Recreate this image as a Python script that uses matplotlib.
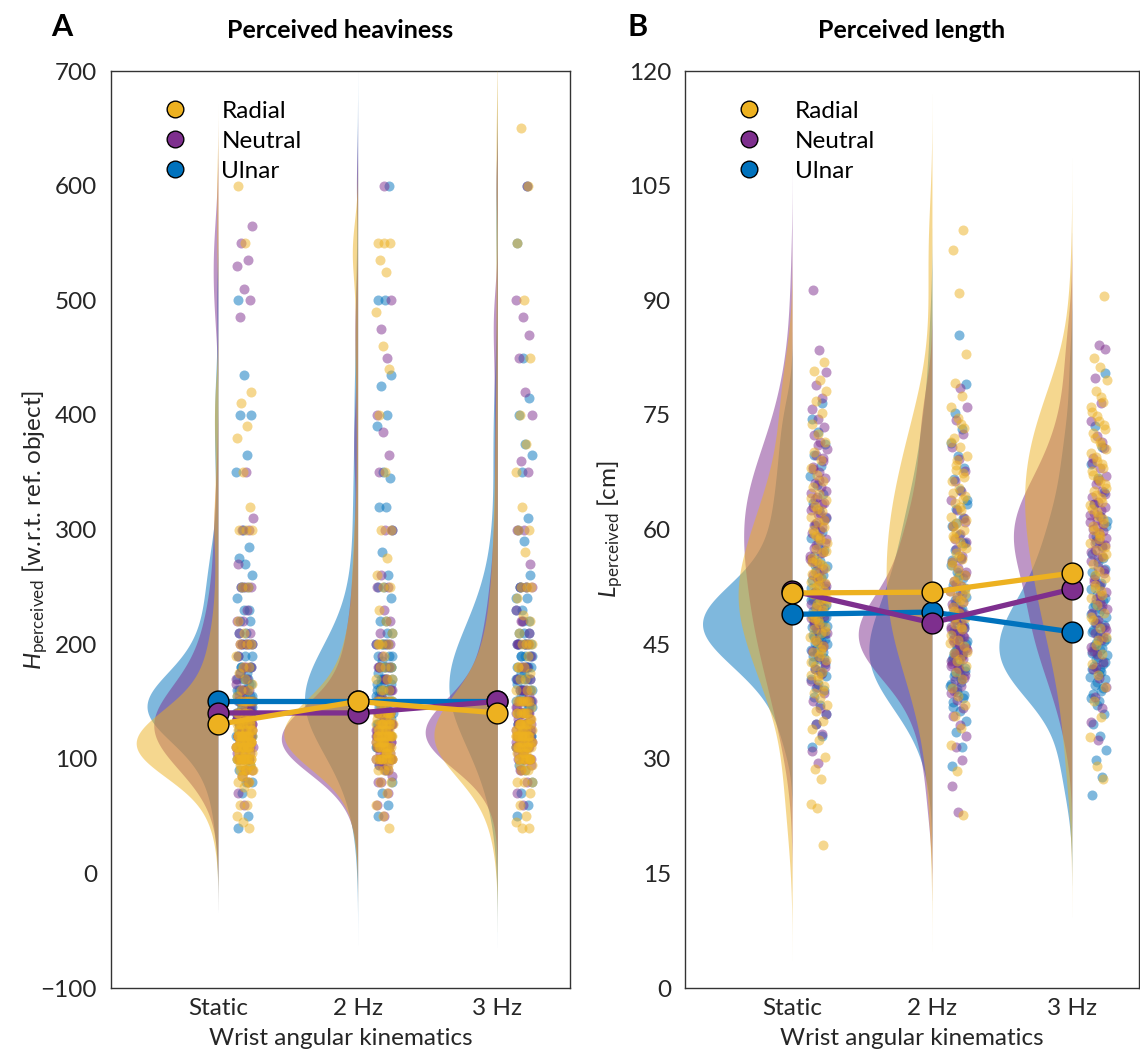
import numpy as np
import matplotlib
matplotlib.use("Agg")
import matplotlib.pyplot as plt
from matplotlib.lines import Line2D

plt.rcParams['font.family'] = ['Lato', 'DejaVu Sans']
plt.rcParams['mathtext.fontset'] = 'custom'
plt.rcParams['mathtext.rm'] = 'Lato'
plt.rcParams['mathtext.it'] = 'Lato:italic'
plt.rcParams['mathtext.bf'] = 'Lato:bold'

categories = ["Static", "2 Hz", "3 Hz"]
conditions = ["Radial", "Neutral", "Ulnar"]
colors = {"Radial": "#EDB120", "Neutral": "#7E2F8E", "Ulnar": "#0072BD"}

# ---------------- Panel A: perceived heaviness ----------------
H_static_radial = [40, 45, 50, 60, 60, 70, 75, 80, 80, 85, 90, 90, 90, 95, 100, 100, 100, 100, 100, 100,
                   105, 110, 110, 110, 110, 115, 115, 120, 120, 120, 120, 120, 120, 125, 125, 130, 130, 130,
                   130, 135, 140, 140, 140, 145, 150, 150, 150, 150, 150, 155, 160, 160, 165, 170, 175, 180,
                   180, 190, 200, 200, 200, 210, 220, 250, 250, 300, 300, 300, 320, 350, 380, 390, 410, 420,
                   550, 600,
                   80, 85, 90, 90, 95, 95, 100, 100, 100, 100, 105, 105, 110, 110, 110, 110, 115, 115, 115,
                   120, 120, 120, 120, 125, 125, 130, 130, 135, 140, 150,
                   95, 100, 100, 105, 105, 110, 110, 110, 115, 115, 115, 120, 120, 120, 125, 125, 130, 130,
                   90, 100, 110, 120, 115, 105, 125]
H_static_neutral = [60, 70, 80, 85, 90, 90, 100, 100, 100, 105, 110, 110, 115, 120, 120, 120, 125, 130, 130,
                    135, 140, 140, 140, 145, 150, 150, 150, 155, 160, 160, 165, 170, 175, 180, 180, 190, 200,
                    200, 200, 200, 210, 210, 220, 220, 230, 250, 250, 250, 270, 300, 300, 310, 350, 485, 500,
                    510, 530, 535, 550, 565,
                    90, 100, 100, 105, 110, 110, 115, 120, 120, 120, 125, 125, 130, 130, 130, 130, 135, 135,
                    140, 140, 140, 145, 150, 150, 160, 170, 180, 200,
                    110, 115, 120, 120, 125, 125, 130, 130, 130, 135, 135, 140, 140, 145, 150, 120, 125, 130,
                    110, 140, 100, 105, 150, 135, 115]
H_static_ulnar = [40, 50, 70, 80, 80, 90, 95, 100, 100, 110, 110, 120, 120, 125, 130, 130, 140, 140, 140, 145,
                  150, 150, 150, 150, 155, 160, 160, 165, 170, 170, 175, 180, 180, 190, 190, 200, 200, 200, 210,
                  220, 220, 230, 240, 250, 250, 260, 270, 275, 285, 300, 350, 365, 400, 400, 435, 500,
                  100, 110, 120, 125, 130, 130, 130, 135, 135, 140, 140, 140, 140, 145, 145, 150, 150, 150,
                  155, 160, 160, 170, 180, 190, 200, 210, 230, 250,
                  120, 125, 130, 135, 140, 140, 140, 145, 145, 150, 150, 150, 155, 155, 160, 160, 165, 170,
                  135, 145, 150, 140, 130, 175, 180]
H_2hz_radial = [40, 50, 60, 70, 80, 80, 90, 90, 95, 100, 100, 100, 100, 105, 110, 110, 110, 115, 120, 120, 120,
                120, 125, 130, 130, 130, 135, 140, 140, 140, 150, 150, 150, 150, 160, 160, 170, 170, 180, 180,
                190, 200, 200, 200, 210, 220, 230, 250, 250, 260, 275, 300, 300, 350, 400, 440, 460, 490, 525,
                535, 550, 550, 550,
                90, 100, 100, 105, 110, 110, 115, 120, 120, 120, 120, 125, 125, 130, 130, 130, 135, 140, 140,
                145, 150, 150, 160, 170, 180, 200, 100, 115,
                100, 105, 110, 110, 115, 115, 120, 120, 120, 125, 125, 130, 130, 135, 140, 145, 150, 110,
                120, 125, 130, 115, 105, 100, 140]
H_2hz_neutral = [50, 60, 70, 80, 85, 90, 95, 100, 100, 100, 110, 110, 115, 120, 120, 120, 125, 130, 130, 140,
                 140, 140, 150, 150, 155, 160, 170, 180, 180, 190, 200, 200, 210, 220, 230, 250, 250, 260, 300,
                 300, 350, 365, 385, 400, 450, 475, 500, 600,
                 80, 90, 95, 100, 100, 100, 105, 110, 110, 110, 115, 115, 120, 120, 120, 120, 125, 125, 130,
                 130, 135, 140, 140, 150, 160, 170, 180, 200, 110, 120,
                 95, 100, 100, 105, 110, 110, 115, 115, 115, 120, 120, 120, 125, 125, 130, 130, 135, 140,
                 110, 115, 120, 125, 105, 100, 145]
H_2hz_ulnar = [50, 60, 70, 80, 90, 95, 100, 100, 110, 110, 120, 120, 125, 130, 130, 140, 140, 145, 150, 150,
               150, 160, 160, 165, 170, 180, 180, 190, 200, 200, 210, 220, 240, 250, 250, 260, 280, 300, 320,
               320, 345, 350, 390, 400, 425, 435, 500, 500, 600,
               100, 110, 120, 125, 130, 135, 140, 140, 145, 150, 150, 155, 160, 160, 165, 170, 170, 180, 180,
               190, 200, 200, 210, 220, 150, 140, 130, 120,
               120, 130, 135, 140, 145, 150, 150, 155, 160, 160, 165, 170, 175, 180, 185, 190, 140, 150,
               160, 170, 130, 145, 155, 180, 200]
H_3hz_radial = [40, 40, 45, 50, 60, 70, 80, 80, 90, 90, 95, 100, 100, 100, 100, 105, 110, 110, 110, 115, 120,
                120, 120, 120, 125, 130, 130, 130, 140, 140, 140, 145, 150, 150, 150, 150, 160, 160, 170, 175,
                180, 180, 190, 200, 200, 200, 210, 220, 225, 240, 250, 250, 250, 280, 300, 300, 320, 350, 375,
                400, 450, 500, 550, 600, 650,
                80, 90, 100, 100, 105, 110, 110, 115, 115, 120, 120, 120, 125, 125, 130, 130, 135, 140, 140,
                150, 150, 160, 170, 180, 200, 110, 120, 100,
                95, 100, 105, 110, 110, 115, 115, 120, 120, 120, 125, 125, 130, 130, 135, 140, 110, 115,
                120, 125, 105, 130, 100, 140, 150]
H_3hz_neutral = [60, 70, 80, 90, 95, 100, 100, 110, 110, 115, 120, 120, 125, 130, 130, 140, 140, 150, 150, 150,
                 155, 160, 170, 180, 180, 190, 200, 200, 210, 220, 230, 250, 250, 270, 300, 300, 350, 360, 400,
                 420, 450, 470, 485, 500, 600,
                 90, 100, 100, 105, 110, 110, 115, 115, 120, 120, 120, 120, 125, 125, 130, 130, 135, 140, 140,
                 145, 150, 160, 170, 180, 200, 200, 220, 250, 110, 120,
                 100, 105, 110, 110, 115, 115, 120, 120, 120, 125, 125, 130, 130, 135, 140, 145, 115, 120,
                 125, 110, 130, 150, 105, 140, 160]
H_3hz_ulnar = [50, 60, 70, 80, 90, 95, 100, 100, 110, 115, 120, 120, 125, 130, 140, 140, 145, 150, 150, 160,
               160, 170, 180, 190, 200, 200, 210, 220, 230, 240, 250, 250, 260, 290, 300, 310, 350, 365, 375,
               400, 415, 450, 550, 600,
               110, 120, 130, 140, 145, 150, 150, 160, 160, 170, 175, 180, 180, 190, 190, 200, 200, 210, 220,
               230, 240, 250, 150, 170, 130, 200, 180, 160,
               130, 140, 150, 160, 165, 170, 175, 180, 190, 200, 150, 160, 170, 180, 140, 190, 210, 200,
               145, 155]

H_mean_radial = [130, 150, 140]
H_mean_neutral = [140, 140, 150]
H_mean_ulnar = [150, 150, 150]

# ---------------- Panel B: perceived length ----------------
L_static_radial = [18.7, 23.6, 24.1, 27.4, 28.7, 30.2, 32.5, 33.9, 35.0, 36.2, 37.1, 38.0, 38.6, 39.5, 40.3,
                   41.0, 41.4, 42.2, 42.9, 43.5, 44.0, 44.8, 45.3, 45.9, 46.5, 47.0, 47.3, 48.1, 48.6, 49.2,
                   49.9, 50.4, 50.8, 51.5, 52.0, 52.6, 53.1, 53.8, 54.5, 55.0, 55.6, 56.3, 57.0, 57.4, 58.2,
                   58.9, 59.5, 60.3, 61.0, 61.6, 62.4, 63.1, 63.9, 64.6, 65.5, 66.3, 67.2, 68.0, 69.1, 70.2,
                   71.4, 72.5, 73.8, 75.2, 76.8, 78.1, 79.6, 80.7, 81.9,
                   40.8, 42.6, 43.9, 45.6, 46.7, 47.8, 48.9, 49.5, 50.2, 50.9, 51.6, 52.3, 53.0, 53.6, 54.2,
                   55.3, 56.0, 57.2, 58.6, 60.0, 61.3, 62.7, 64.1, 44.4, 48.3, 51.1, 52.8, 55.8, 38.9, 59.1]
L_static_neutral = [29.5, 31.0, 33.2, 34.5, 35.8, 36.7, 37.5, 38.6, 39.4, 40.2, 41.1, 41.8, 42.6, 43.3, 44.1,
                    44.9, 45.6, 46.4, 47.2, 48.0, 48.7, 49.5, 50.3, 51.0, 51.8, 52.6, 53.3, 54.1, 54.8, 55.5,
                    56.2, 56.9, 57.6, 58.3, 59.0, 59.6, 60.3, 60.9, 61.6, 62.2, 62.9, 63.5, 64.2, 64.8, 65.5,
                    66.1, 66.8, 67.5, 68.2, 69.0, 69.8, 70.6, 71.5, 72.4, 73.4, 74.5, 75.8, 77.2, 78.9, 80.6,
                    83.5, 91.3,
                    44.6, 46.8, 48.4, 50.0, 51.4, 52.9, 54.4, 55.9, 57.1, 58.0, 58.8, 59.9, 60.6, 61.3, 62.0,
                    62.6, 63.3, 64.0, 65.1, 66.5, 67.9, 69.4, 53.7, 56.5, 49.1, 47.5, 42.0, 71.0]
L_static_ulnar = [31.5, 33.0, 34.6, 35.9, 37.0, 38.1, 39.0, 39.8, 40.5, 41.2, 41.8, 42.4, 43.0, 43.5, 44.0,
                  44.5, 45.0, 45.4, 45.9, 46.3, 46.8, 47.2, 47.6, 48.1, 48.5, 49.0, 49.4, 49.9, 50.3, 50.8,
                  51.3, 51.8, 52.3, 52.9, 53.4, 54.0, 54.6, 55.2, 55.9, 56.6, 57.3, 58.1, 58.9, 59.7, 60.6,
                  61.5, 62.5, 63.5, 64.6, 65.8, 67.0, 68.3, 69.7, 71.2, 72.8, 74.5, 76.6,
                  39.3, 40.8, 41.5, 42.7, 43.2, 43.8, 44.3, 44.9, 45.1, 45.7, 46.0, 46.2, 46.5, 47.0, 47.4,
                  47.7, 47.9, 48.3, 48.6, 48.8, 49.2, 49.7, 50.1, 50.6, 50.9, 51.1, 51.7, 52.4, 53.6, 55.4]
L_2hz_radial = [22.6, 28.4, 31.8, 34.0, 35.6, 37.0, 38.2, 39.3, 40.4, 41.3, 42.2, 43.0, 43.9, 44.7, 45.5, 46.2,
                47.0, 47.7, 48.4, 49.1, 49.8, 50.5, 51.2, 51.9, 52.6, 53.3, 54.0, 54.7, 55.4, 56.1, 56.9, 57.6,
                58.4, 59.2, 60.0, 60.8, 61.7, 62.6, 63.5, 64.4, 65.4, 66.4, 67.4, 68.5, 69.6, 70.8, 72.0, 73.3,
                74.6, 76.0, 77.5, 79.2, 83.0, 91.0, 96.6, 99.2,
                42.8, 45.1, 47.3, 49.4, 51.5, 53.6, 55.7, 57.8, 59.7, 61.2, 62.9, 64.8, 66.9, 69.1, 71.4, 73.8,
                48.5, 52.2, 56.5, 60.5, 64.0, 67.8, 44.0, 50.8, 58.9]
L_2hz_neutral = [23.0, 26.4, 29.8, 31.5, 33.0, 34.4, 35.6, 36.7, 37.7, 38.6, 39.5, 40.3, 41.0, 41.7, 42.4, 43.0,
                 43.6, 44.2, 44.8, 45.3, 45.9, 46.4, 47.0, 47.5, 48.1, 48.7, 49.3, 49.9, 50.5, 51.2, 51.9, 52.6,
                 53.3, 54.1, 54.9, 55.7, 56.6, 57.5, 58.4, 59.4, 60.4, 61.5, 62.6, 63.8, 65.0, 66.3, 67.7, 69.2,
                 70.8, 72.5, 74.3, 76.0, 78.5,
                 38.9, 40.6, 41.9, 42.8, 43.4, 43.9, 44.5, 45.0, 45.6, 46.1, 46.7, 47.3, 47.8, 48.4, 49.0, 49.6,
                 50.2, 51.5, 52.9, 54.5, 44.1, 45.8, 47.1, 48.8, 42.1, 56.2, 58.8, 61.0]
L_2hz_ulnar = [29.0, 31.6, 33.5, 35.0, 36.3, 37.4, 38.3, 39.1, 39.8, 40.5, 41.2, 41.9, 42.6, 43.3, 44.0, 44.7,
               45.4, 46.1, 46.8, 47.5, 48.2, 48.9, 49.6, 50.4, 51.2, 52.0, 52.8, 53.6, 54.5, 55.4, 56.3, 57.3,
               58.3, 59.3, 60.4, 61.5, 62.7, 63.9, 65.2, 66.6, 68.0, 69.6, 71.3, 73.2, 75.3, 79.0, 85.5,
               36.8, 38.0, 38.7, 39.5, 40.1, 40.8, 41.5, 42.2, 42.9, 43.6, 44.3, 45.0, 45.7, 46.4, 47.1, 47.8,
               48.6, 49.4, 50.8, 52.4, 54.0, 56.0, 58.2, 60.9, 63.3, 41.0, 43.9]
L_3hz_radial = [27.4, 29.1, 32.8, 35.5, 37.6, 39.4, 41.0, 42.4, 43.7, 44.9, 46.0, 47.1, 48.1, 49.1, 50.1, 51.0,
                51.9, 52.8, 53.7, 54.6, 55.5, 56.4, 57.3, 58.2, 59.1, 60.0, 60.9, 61.8, 62.7, 63.6, 64.5, 65.4,
                66.3, 67.2, 68.1, 69.0, 70.0, 71.0, 72.0, 73.1, 74.2, 75.4, 76.7, 78.1, 79.6, 81.3, 82.5, 90.5,
                45.5, 48.6, 51.4, 54.1, 56.8, 58.7, 60.4, 61.4, 62.3, 63.2, 64.1, 65.0, 65.9, 66.8, 67.7, 68.6,
                69.5, 70.5, 71.5, 72.6, 73.7, 74.8, 76.0, 77.4, 52.3, 57.7, 59.6]
L_3hz_neutral = [32.5, 34.8, 36.6, 38.1, 39.4, 40.6, 41.7, 42.7, 43.7, 44.6, 45.5, 46.4, 47.3, 48.2, 49.1, 50.0,
                 50.9, 51.8, 52.7, 53.5, 54.3, 55.1, 55.9, 56.6, 57.3, 58.0, 58.6, 59.2, 59.8, 60.4, 61.0, 61.6,
                 62.2, 62.9, 63.6, 64.3, 65.1, 66.0, 67.0, 68.1, 69.3, 70.7, 72.3, 74.2, 76.5, 79.8, 83.6, 84.2,
                 44.1, 45.9, 47.8, 49.6, 51.4, 53.1, 54.7, 56.3, 57.0, 57.7, 58.3, 58.9, 59.5, 60.1, 60.7, 61.3,
                 61.9, 62.6, 63.3, 64.7, 66.5, 68.7, 71.5, 42.0, 46.9, 50.5]
L_3hz_ulnar = [25.2, 27.6, 29.9, 31.1, 33.0, 34.6, 35.9, 37.0, 38.0, 38.9, 39.7, 40.4, 41.1, 41.8, 42.4, 43.0,
               43.6, 44.2, 44.8, 45.4, 46.0, 46.6, 47.2, 47.8, 48.5, 49.2, 49.9, 50.6, 51.4, 52.2, 53.0, 53.9,
               54.8, 55.8, 56.8, 57.9, 59.1, 60.4, 61.8, 63.3, 64.9, 66.7, 68.6, 70.8, 73.5, 80.5,
               37.5, 38.5, 39.3, 40.0, 40.7, 41.4, 42.1, 42.7, 43.3, 43.9, 44.5, 45.1, 45.7, 46.3, 46.9, 47.5,
               48.2, 48.9, 49.6, 50.3, 51.0, 52.6, 54.4, 56.3, 58.5, 61.1, 41.8, 44.1]

L_mean_radial = [51.7, 51.8, 54.3]
L_mean_neutral = [52.0, 47.8, 52.2]
L_mean_ulnar = [48.9, 49.2, 46.6]

H_data = {"Radial": [H_static_radial, H_2hz_radial, H_3hz_radial],
          "Neutral": [H_static_neutral, H_2hz_neutral, H_3hz_neutral],
          "Ulnar": [H_static_ulnar, H_2hz_ulnar, H_3hz_ulnar]}
H_means = {"Radial": H_mean_radial, "Neutral": H_mean_neutral, "Ulnar": H_mean_ulnar}
L_data = {"Radial": [L_static_radial, L_2hz_radial, L_3hz_radial],
          "Neutral": [L_static_neutral, L_2hz_neutral, L_3hz_neutral],
          "Ulnar": [L_static_ulnar, L_2hz_ulnar, L_3hz_ulnar]}
L_means = {"Radial": L_mean_radial, "Neutral": L_mean_neutral, "Ulnar": L_mean_ulnar}

FS = 17.5
TXT = '#262626'


def kde(vals, bw_factor):
    v = np.asarray(vals, float)
    n = len(v)
    sig = np.median(np.abs(v - np.median(v))) / 0.6745
    bw = bw_factor * sig * (4.0 / (3.0 * n)) ** 0.2
    grid = np.linspace(v.min() - 3 * bw, v.max() + 3 * bw, 500)
    d = np.exp(-0.5 * ((grid[:, None] - v[None, :]) / bw) ** 2).sum(1) / (n * bw * np.sqrt(2 * np.pi))
    return grid, d


draw_order = ["Ulnar", "Neutral", "Radial"]
cond_offset = {"Ulnar": 0.11, "Neutral": 0.47, "Radial": 0.79}


def raincloud(ax, data, means, max_width, bw_factor):
    dens = {}
    gmax = 0
    for c in draw_order:
        for i in range(3):
            g, d = kde(data[c][i], bw_factor)
            dens[(c, i)] = (g, d)
            gmax = max(gmax, d.max())
    k = max_width / gmax
    for zi, c in enumerate(draw_order):
        for i in range(3):
            g, d = dens[(c, i)]
            ax.fill_betweenx(g, i - k * d, i, color=colors[c], alpha=0.5, lw=0, zorder=1 + zi)
    for zi, c in enumerate(draw_order):
        for i in range(3):
            v = np.asarray(data[c][i], float)
            idx = np.arange(len(v))
            frac = (idx * 0.6180339887 + cond_offset[c]) % 1.0
            x = i + 0.13 + 0.12 * frac
            ax.scatter(x, v, s=52, color=colors[c], alpha=0.5, lw=0, zorder=5 + zi)
    for zi, c in enumerate(draw_order):
        ax.plot(range(3), means[c], color=colors[c], lw=3.8, marker='o', ms=15,
                mfc=colors[c], mec='black', mew=1.0, zorder=10 + zi, solid_capstyle='butt')


fig = plt.figure(figsize=(11.4, 10.52), dpi=100)
axA = fig.add_axes([0.0974, 0.0608, 0.4026, 0.8717])
axB = fig.add_axes([0.6009, 0.0608, 0.3982, 0.8717])

raincloud(axA, H_data, H_means, 0.585, 2.0)
raincloud(axB, L_data, L_means, 0.64, 1.0)

axA.set_ylim(-100, 700)
axA.set_yticks(np.arange(-100, 701, 100))
axB.set_ylim(0, 120)
axB.set_yticks(np.arange(0, 121, 15))

for ax, title, ylab, letter, lx in [
        (axA, "Perceived heaviness", r"$H_{\mathrm{perceived}}$ [w.r.t. ref. object]", "A", 0.054),
        (axB, "Perceived length", r"$L_{\mathrm{perceived}}$ [cm]", "B", 0.559)]:
    ax.set_xlim(-0.765, 2.52 if ax is axA else 2.48)
    ax.set_xticks(range(3))
    ax.set_xticklabels(categories)
    ax.tick_params(axis='both', length=0, labelsize=FS, colors=TXT)
    ax.tick_params(axis='x', pad=7)
    ax.tick_params(axis='y', pad=10)
    ax.set_xlabel("Wrist angular kinematics", fontsize=FS, color=TXT, labelpad=7)
    ax.set_ylabel(ylab, fontsize=FS, color=TXT)
    ax.yaxis.set_label_coords(-0.133, 0.5)
    ax.set_title(title, fontsize=18, fontweight='bold', pad=24)
    for s in ax.spines.values():
        s.set_color('#333333')
        s.set_linewidth(1.0)
    fig.text(lx, 0.974, letter, fontsize=22, fontweight='bold', ha='center', va='center')
    handles = [Line2D([], [], ls='none', marker='o', ms=12, mfc=colors[c], mec='black', mew=1.0)
               for c in conditions]
    ax.legend(handles, conditions, loc='upper left', bbox_to_anchor=(0.05, 0.986), frameon=False,
              fontsize=FS, handletextpad=0.9, labelspacing=0.37, borderaxespad=0.3)

fig.savefig("out.png", dpi=100)
